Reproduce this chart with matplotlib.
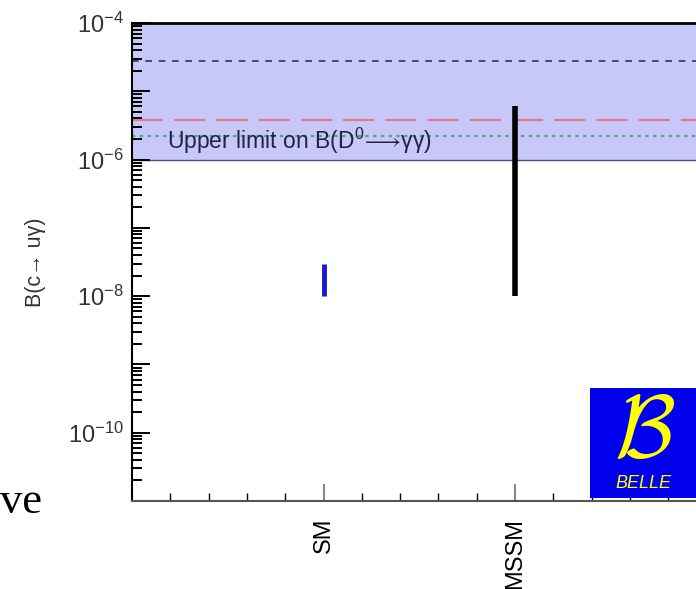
import numpy as np
import matplotlib
matplotlib.use("Agg")
import matplotlib.pyplot as plt
from matplotlib.ticker import FixedLocator, NullFormatter, FixedFormatter
from matplotlib.patches import Rectangle

# model predictions: (position, low, high)
models = ["SM", "MSSM"]
model_pos = [5, 10]
model_low = [1.0e-8, 1.0e-8]
model_high = [3.0e-8, 6.0e-6]
model_colors = ["#1a1acc", "black"]

# horizontal reference levels
upper_limit = 1.0e-6
line_levels = [2.8e-5, 3.8e-6, 2.2e-6]
line_colors = ["#333355", "#e07a90", "#4aa88a"]
line_styles = [(0, (4, 4)), (0, (14, 5)), (0, (1.5, 2))]

decades = [-11, -10, -9, -8, -7, -6, -5, -4]
labelled = {-4: r"$10^{-4}$", -6: r"$10^{-6}$", -8: r"$10^{-8}$", -10: r"$10^{-10}$"}

plt.rcParams["font.family"] = ["Liberation Sans", "DejaVu Sans"]
plt.rcParams["mathtext.fontset"] = "custom"
plt.rcParams["mathtext.rm"] = "Liberation Sans"
plt.rcParams["mathtext.it"] = "Liberation Sans:italic"

fig = plt.figure(figsize=(6.96, 5.89), dpi=100)
ax = fig.add_axes([0.1897, 0.1494, 0.8254, 0.8115])
ax.set_yscale("log")
ax.set_ylim(1e-11, 1e-4)
ax.set_xlim(0, 15)

# excluded region above the upper limit
ax.axhspan(upper_limit, 1e-4, color="#c8c8f8", zorder=0)
ax.axhline(upper_limit, color="#555577", lw=1.0, zorder=1)
for lv, c, ls in zip(line_levels, line_colors, line_styles):
    ax.axhline(lv, color=c, ls=ls, lw=1.6 if c != line_colors[0] else 1.2, zorder=2)

ax.text(0.92, 1.12e-6, r"Upper limit on B(D$^0\!\longrightarrow\!$γγ)",
        fontsize=16.5, color="#222244", va="bottom", ha="left")

for x, lo, hi, c in zip(model_pos, model_low, model_high, model_colors):
    ax.vlines(x, lo, hi, color=c, lw=4 if c == "black" else 3.5, zorder=3)

# ticks
minor_locs = [m * 10.0 ** d for d in decades[:-1] for m in range(2, 10)]
ax.yaxis.set_major_locator(FixedLocator([10.0 ** d for d in decades]))
ax.yaxis.set_major_formatter(FixedFormatter([labelled.get(d, "") for d in decades]))
ax.yaxis.set_minor_locator(FixedLocator(minor_locs))
ax.yaxis.set_minor_formatter(NullFormatter())
ax.tick_params(axis="y", which="major", direction="in", length=13, width=1.4,
               labelsize=17, labelcolor="#333333", pad=6)
ax.tick_params(axis="y", which="minor", direction="in", length=7, width=1.4)

ax.xaxis.set_major_locator(FixedLocator(model_pos))
ax.xaxis.set_major_formatter(FixedFormatter(models))
ax.xaxis.set_minor_locator(FixedLocator(np.arange(1, 15)))
ax.tick_params(axis="x", which="major", direction="in", length=12, width=1.5,
               color="#888888", labelsize=17, labelrotation=90, pad=12)
ax.tick_params(axis="x", which="minor", direction="in", length=6, width=1.0)
ax.tick_params(top=False, right=False)

ax.spines["top"].set_linewidth(2)
ax.spines["left"].set_linewidth(1.5)
ax.spines["bottom"].set_linewidth(1.5)
ax.spines["bottom"].set_color("#555555")

ax.set_ylabel("B(c\u2192 u\u03b3)", fontsize=15.5, color="#333333", labelpad=16)

# Belle logo box
logo = Rectangle((590 / 696, 91 / 589), 106 / 696, 110 / 589,
                 transform=fig.transFigure, facecolor="#0000ee", edgecolor="none", zorder=5)
fig.patches.append(logo)
fig.text(645 / 696, 155 / 589, r"$\mathcal{B}$", color="#ffff00", fontsize=64,
         math_fontfamily="cm", ha="center", va="center", zorder=6)
fig.text(643 / 696, 105 / 589, "BELLE", color="#ffff00", fontsize=13, style="italic",
         ha="center", va="center", zorder=6)

# stray text fragment at lower left
fig.text(0.0, 76 / 589, "ve", fontsize=32, family=["Liberation Serif"], color="black",
         ha="left", va="baseline")

fig.savefig("out.png", dpi=100)
